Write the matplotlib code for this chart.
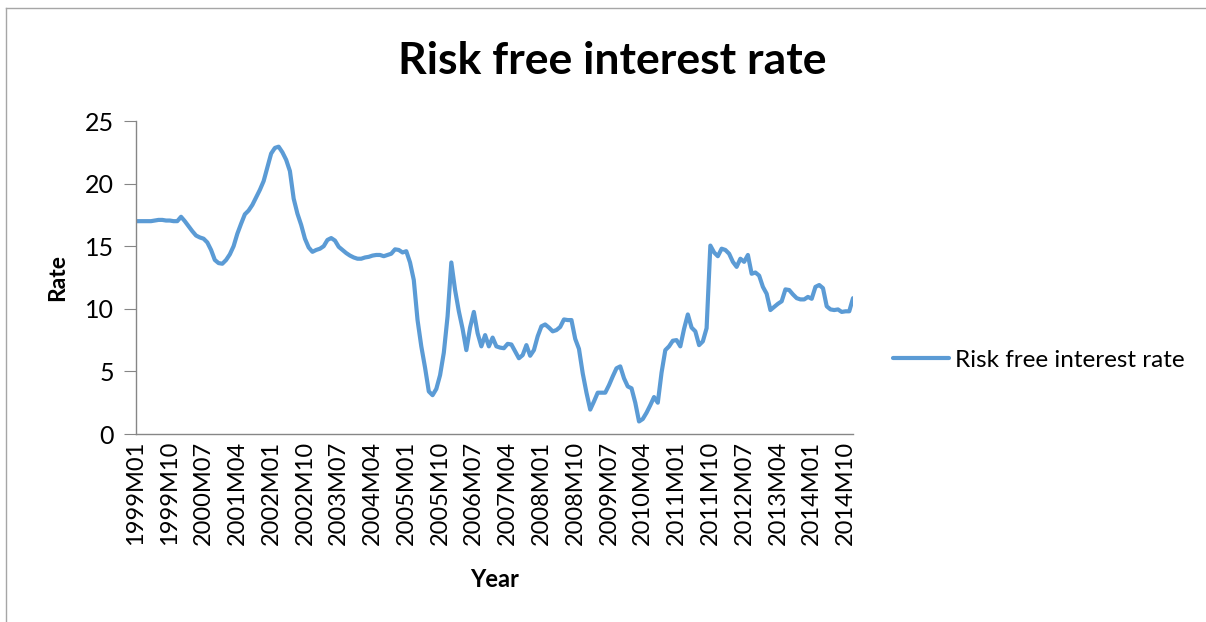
import numpy as np
import matplotlib.pyplot as plt
from matplotlib.lines import Line2D

plt.rcParams['font.family'] = ['Lato', 'DejaVu Sans']

# monthly categories 1999M01 .. 2014M12
months = [str(y) + "M" + str(m).zfill(2) for y in range(1999, 2015) for m in range(1, 13)]

rate = [
    # 1999
    17.0, 17.0, 17.0, 17.0, 17.0, 17.05, 17.1, 17.1, 17.05, 17.05, 17.0, 17.0,
    # 2000
    17.35, 17.0, 16.6, 16.2, 15.85, 15.7, 15.6, 15.3, 14.7, 13.9, 13.65, 13.6,
    # 2001
    13.9, 14.35, 15.0, 16.0, 16.8, 17.55, 17.85, 18.3, 18.9, 19.5, 20.2, 21.3,
    # 2002
    22.4, 22.85, 22.95, 22.5, 21.9, 21.0, 18.8, 17.6, 16.7, 15.6, 14.9, 14.55,
    # 2003
    14.7, 14.8, 15.0, 15.5, 15.65, 15.45, 14.95, 14.7, 14.45, 14.25, 14.1, 14.0,
    # 2004
    14.0, 14.1, 14.15, 14.25, 14.3, 14.3, 14.2, 14.3, 14.4, 14.75, 14.7, 14.5,
    # 2005
    14.6, 13.7, 12.3, 9.1, 7.0, 5.3, 3.4, 3.1, 3.6, 4.7, 6.5, 9.4,
    # 2006
    13.7, 11.5, 9.8, 8.4, 6.7, 8.5, 9.75, 8.05, 7.0, 7.9, 7.0, 7.7,
    # 2007
    7.0, 6.9, 6.85, 7.2, 7.15, 6.6, 6.05, 6.3, 7.1, 6.25, 6.7, 7.8,
    # 2008
    8.6, 8.75, 8.5, 8.2, 8.3, 8.55, 9.15, 9.1, 9.1, 7.6, 6.8, 4.85,
    # 2009
    3.3, 1.95, 2.6, 3.3, 3.3, 3.3, 3.9, 4.6, 5.25, 5.4, 4.45, 3.8,
    # 2010
    3.65, 2.5, 1.0, 1.2, 1.7, 2.3, 2.95, 2.5, 4.9, 6.7, 7.0, 7.45,
    # 2011
    7.5, 7.0, 8.4, 9.55, 8.5, 8.2, 7.1, 7.4, 8.45, 15.05, 14.5, 14.2,
    # 2012
    14.8, 14.7, 14.4, 13.75, 13.35, 14.0, 13.75, 14.3, 12.8, 12.9, 12.65, 11.75,
    # 2013
    11.2, 9.9, 10.15, 10.4, 10.6, 11.55, 11.5, 11.15, 10.85, 10.75, 10.75, 10.95,
    # 2014
    10.8, 11.75, 11.9, 11.65, 10.2, 9.95, 9.9, 9.95, 9.75, 9.8, 9.8, 10.85,
]

y_ticks = [0, 5, 10, 15, 20, 25]
label_step = 9
series_name = "Risk free interest rate"

W, H = 1206, 622
fig = plt.figure(figsize=(W / 100, H / 100), dpi=100)
ax = fig.add_axes([136 / W, 1 - 434 / H, (853 - 136) / W, (434 - 121) / H])

x = np.arange(len(rate))
ax.plot(x, rate, color="#5B9BD5", lw=3.0, solid_joinstyle="round",
        solid_capstyle="round", label=series_name)

ax.set_xlim(0, len(rate) - 1)
ax.set_ylim(0, 25)
ax.set_yticks(y_ticks)
ax.set_xticks(x[::label_step])
ax.set_xticklabels(months[::label_step], rotation=90)

for s in ["top", "right"]:
    ax.spines[s].set_visible(False)
for s in ["left", "bottom"]:
    ax.spines[s].set_color("#868686")
    ax.spines[s].set_linewidth(1.0)

ax.tick_params(axis="x", length=0, pad=5, labelsize=17)
ax.tick_params(axis="y", length=9, color="#868686", pad=7, labelsize=18)

ax.set_xlabel("Year", fontsize=17, fontweight="bold", labelpad=16)
ax.set_ylabel("Rate", fontsize=16.5, fontweight="bold", labelpad=12)

fig.text(612 / W, 1 - 61 / H, "Risk free interest rate", ha="center", va="center",
         fontsize=32, fontweight="bold")

fig.legend(loc="center left", bbox_to_anchor=(893 / W, 1 - 360 / H),
           frameon=False, fontsize=17.5, handlelength=2.3, handletextpad=0.25,
           borderpad=0, borderaxespad=0)

# chart area border (top and left edges visible in the crop)
fig.add_artist(Line2D([6 / W, 6 / W], [0, 1 - 8 / H], transform=fig.transFigure,
                      color="#A6A6A6", lw=1))
fig.add_artist(Line2D([6 / W, 1], [1 - 8 / H, 1 - 8 / H], transform=fig.transFigure,
                      color="#A6A6A6", lw=1))

fig.savefig("out.png", dpi=100)
